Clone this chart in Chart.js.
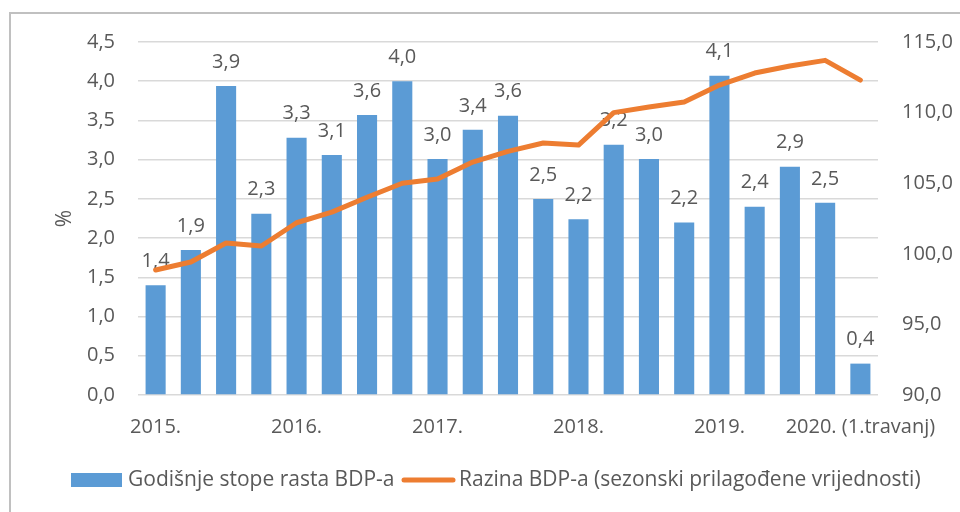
<!DOCTYPE html>
<html>
<head>
<meta charset="utf-8">
<script src="https://cdn.jsdelivr.net/npm/chart.js@4.4.1/dist/chart.umd.min.js"></script>
<style>
  html, body { margin: 0; padding: 0; background: #ffffff; }
  #wrap { position: relative; width: 960px; height: 512px; overflow: hidden; }
  #frame { position: absolute; left: 9px; top: 12px; width: 980px; height: 540px; border: 2px solid #c0c0c0; box-sizing: border-box; }
  canvas { position: absolute; left: 0; top: 0; }
</style>
</head>
<body>
<div id="wrap">
  <div id="frame"></div>
  <canvas id="c" width="960" height="512"></canvas>
</div>
<script>
const categories = ["2015.", "", "", "", "2016.", "", "", "", "2017.", "", "", "", "2018.", "", "", "", "2019.", "", "", "", "2020. (1.travanj)"];
const growthRates = [1.40, 1.85, 3.94, 2.31, 3.28, 3.06, 3.57, 4.00, 3.01, 3.38, 3.56, 2.50, 2.24, 3.19, 3.01, 2.20, 4.07, 2.40, 2.91, 2.45, 0.40];
const gdpLevel = [98.85, 99.42, 100.77, 100.55, 102.2, 102.95, 104.0, 105.0, 105.3, 106.5, 107.25, 107.85, 107.7, 110.0, 110.4, 110.75, 111.95, 112.8, 113.3, 113.7, 112.3];
const leftTicks = [0, 0.5, 1, 1.5, 2, 2.5, 3, 3.5, 4, 4.5];
const rightTicks = [90, 95, 100, 105, 110, 115];
const seriesNames = ["Godišnje stope rasta BDP-a", "Razina BDP-a (sezonski prilagođene vrijednosti)"];

const FONT = "'Open Sans', 'DejaVu Sans', sans-serif";
const TXT = "#595959";
const fmt = v => (Math.round(v * 10) / 10).toFixed(1).replace('.', ',');

const barLabels = {
  id: 'barLabels',
  afterDatasetDraw(chart, args) {
    if (args.index !== 0) return;
    const ctx = chart.ctx;
    const meta = chart.getDatasetMeta(0);
    ctx.save();
    ctx.font = "20px " + FONT;
    ctx.fillStyle = TXT;
    ctx.textAlign = 'center';
    ctx.textBaseline = 'middle';
    meta.data.forEach((el, i) => {
      ctx.fillText(fmt(growthRates[i]), el.x, el.y - 24);
    });
    ctx.restore();
  }
};

const customLegend = {
  id: 'customLegend',
  afterDraw(chart) {
    const ctx = chart.ctx;
    ctx.save();
    ctx.font = "21px " + FONT;
    ctx.textBaseline = 'middle';
    const y = 480;
    ctx.fillStyle = chart.data.datasets[0].backgroundColor;
    ctx.fillRect(71, y - 7, 51, 14);
    ctx.fillStyle = TXT;
    ctx.fillText(seriesNames[0], 128, y);
    ctx.strokeStyle = chart.data.datasets[1].borderColor;
    ctx.lineWidth = 5;
    ctx.lineCap = 'round';
    ctx.beginPath();
    ctx.moveTo(404, y);
    ctx.lineTo(453, y);
    ctx.stroke();
    ctx.fillText(seriesNames[1], 459, y);
    ctx.restore();
  }
};

new Chart(document.getElementById('c'), {
  data: {
    labels: categories,
    datasets: [
      {
        type: 'bar',
        label: seriesNames[0],
        data: growthRates,
        backgroundColor: '#5b9bd5',
        yAxisID: 'y',
        categoryPercentage: 0.57,
        barPercentage: 1.0,
        order: 2
      },
      {
        type: 'line',
        label: seriesNames[1],
        data: gdpLevel,
        borderColor: '#ed7d31',
        backgroundColor: '#ed7d31',
        borderWidth: 5,
        pointRadius: 0,
        tension: 0,
        borderJoinStyle: 'round',
        borderCapStyle: 'round',
        yAxisID: 'y1',
        order: 1
      }
    ]
  },
  options: {
    responsive: false,
    animation: false,
    events: [],
    layout: { padding: { top: 42, bottom: 70, left: 0, right: 0 } },
    plugins: {
      legend: { display: false },
      tooltip: { enabled: false }
    },
    scales: {
      x: {
        grid: { display: false, drawTicks: false },
        border: { display: false },
        ticks: {
          autoSkip: false, maxRotation: 0, minRotation: 0,
          color: TXT, font: { family: FONT, size: 20 }, padding: 20
        },
        afterFit(s) { s.height = 47; }
      },
      y: {
        position: 'left',
        min: 0, max: 4.5,
        afterBuildTicks(s) { s.ticks = leftTicks.map(v => ({ value: v })); },
        grid: { color: '#d9d9d9', lineWidth: 1.5, drawTicks: false },
        border: { display: false },
        ticks: {
          color: TXT, font: { family: FONT, size: 20 }, padding: 23,
          callback: v => fmt(v)
        },
        title: {
          display: true, text: '%', color: TXT,
          font: { family: FONT, size: 21 }, padding: { top: 52, bottom: 0 }
        },
        afterFit(s) { s.width = 138; }
      },
      y1: {
        position: 'right',
        min: 90, max: 115,
        afterBuildTicks(s) { s.ticks = rightTicks.map(v => ({ value: v })); },
        grid: { display: false, drawTicks: false },
        border: { display: false },
        ticks: {
          color: TXT, font: { family: FONT, size: 20 }, padding: 24,
          callback: v => fmt(v)
        },
        afterFit(s) { s.width = 82; }
      }
    }
  },
  plugins: [barLabels, customLegend]
});
</script>
</body>
</html>
